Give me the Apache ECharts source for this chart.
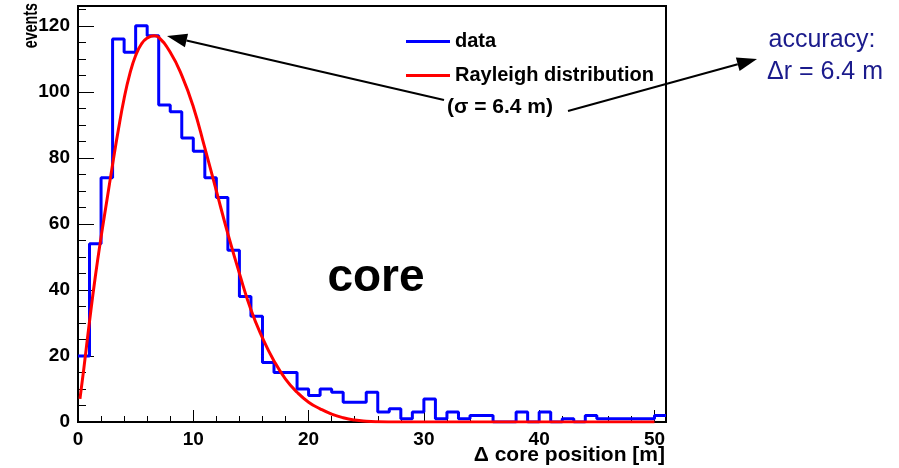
<!DOCTYPE html>
<html>
<head>
<meta charset="utf-8">
<script src="https://cdn.jsdelivr.net/npm/echarts@6/dist/echarts.min.js"></script>
<style>
  html, body { margin: 0; padding: 0; background: #ffffff; }
  #chart { width: 899px; height: 468px; }
</style>
</head>
<body>
<div id="chart"></div>
<script>
// Histogram of core position error: counts per 1 m bin, starting at 0 m
const binCounts = [20, 54, 74, 116, 112, 120, 117, 96, 94, 86,
                   82, 74, 68, 52, 38, 32, 18, 15, 15, 10,
                   8, 10, 9, 6, 6, 9, 3, 4, 1, 3,
                   7, 1, 3, 1, 2, 2, 0, 0, 3, 0,
                   3, 0, 1, 0, 2, 1, 1, 1, 1, 1,
                   2];
const binWidth = 1;

// Rayleigh fit curve, sampled points (x in m, y in events)
const curveX = [0.17, 0.5, 1, 1.5, 2, 2.5, 3, 3.5, 4, 4.5,
                5, 5.5, 6, 6.6, 7, 8, 9, 10, 11, 12,
                13, 14, 15, 16, 17, 18, 19, 20, 21, 22,
                23, 24, 25, 26, 28, 32, 40, 50];
const curveY = [7, 16, 30.5, 44, 56, 67, 78, 88.5, 98, 105.5,
                111, 114.5, 116.3, 117, 116.5, 112, 105, 95.5, 83, 70,
                57, 45, 34, 25.5, 18.5, 13, 9, 6, 4, 2.4,
                1.3, 0.6, 0.25, 0.1, 0.02, 0, 0, 0];

// Axis ticks
const xMajorTicks = [0, 10, 20, 30, 40, 50];
const xMinorTicks = [2, 4, 6, 8, 12, 14, 16, 18, 22, 24, 26, 28, 32, 34, 36, 38, 42, 44, 46, 48];
const yMajorTicks = [0, 20, 40, 60, 80, 100, 120];
const yMinorTicks = [5, 10, 15, 25, 30, 35, 45, 50, 55, 65, 70, 75, 85, 90, 95, 105, 110, 115, 125];
const xRange = [0, 51];
const yRange = [0, 126];

// Step outline: one point per bin's left edge, plus the closing right edge
const histPoints = binCounts.map((v, i) => [i * binWidth, v]);
histPoints.push([binCounts.length * binWidth, binCounts[binCounts.length - 1]]);
const curvePoints = curveX.map((x, i) => [x, curveY[i]]);

const FONT = '"Liberation Sans", Helvetica, Arial, sans-serif';
const labelStyle = { color: '#000', fontFamily: FONT, fontWeight: 'bold', fontSize: 19 };

// Straight arrow with a filled triangular head at (x2, y2)
function arrow(x1, y1, x2, y2) {
  const len = 20, half = 7;
  const dx = x2 - x1, dy = y2 - y1;
  const d = Math.sqrt(dx * dx + dy * dy);
  const ux = dx / d, uy = dy / d;
  const bx = x2 - ux * len, by = y2 - uy * len;
  return {
    type: 'group',
    children: [
      { type: 'line', shape: { x1: x1, y1: y1, x2: bx, y2: by },
        style: { stroke: '#000', lineWidth: 2 } },
      { type: 'polygon',
        shape: { points: [[x2, y2], [bx - uy * half, by + ux * half], [bx + uy * half, by - ux * half]] },
        style: { fill: '#000' } }
    ]
  };
}

function valueAxis(range, ticks, tickLen, withLabels, extra) {
  return Object.assign({
    type: 'value',
    min: range[0],
    max: range[1],
    axisLine: { show: withLabels, onZero: false, lineStyle: { color: '#000', width: 2 } },
    axisTick: { show: true, inside: true, length: tickLen, customValues: ticks,
                lineStyle: { color: '#000', width: 1 } },
    axisLabel: withLabels
      ? Object.assign({ show: true, margin: 8, customValues: ticks }, labelStyle)
      : { show: false },
    splitLine: { show: false }
  }, extra);
}

const chart = echarts.init(document.getElementById('chart'), null, { renderer: 'canvas' });
chart.setOption({
  backgroundColor: '#ffffff',
  animation: false,
  grid: {
    left: 78, top: 6, right: 233, bottom: 46,
    show: true, borderColor: '#000', borderWidth: 2, backgroundColor: 'transparent'
  },
  xAxis: [
    valueAxis(xRange, xMajorTicks, 12, true, { position: 'bottom' }),
    valueAxis(xRange, xMinorTicks, 6, false, { position: 'bottom', offset: 0 })
  ],
  yAxis: [
    valueAxis(yRange, yMajorTicks, 16, true, { position: 'left' }),
    valueAxis(yRange, yMinorTicks, 8, false, { position: 'left', offset: 0 })
  ],
  legend: {
    orient: 'vertical',
    left: 401, top: 26,
    icon: 'rect',
    itemWidth: 44, itemHeight: 3, itemGap: 13, itemTextGap: 13,
    textStyle: Object.assign({}, labelStyle, { fontSize: 20, lineHeight: 21 }),
    data: ['data', 'Rayleigh distribution']
  },
  series: [
    {
      name: 'data',
      type: 'line',
      step: 'end',
      data: histPoints,
      symbol: 'none',
      lineStyle: { color: '#0000ff', width: 3 },
      itemStyle: { color: '#0000ff' },
      clip: true,
      z: 3
    },
    {
      name: 'Rayleigh distribution',
      type: 'line',
      data: curvePoints,
      smooth: 0.5,
      symbol: 'none',
      lineStyle: { color: '#ff0000', width: 3, join: 'round' },
      itemStyle: { color: '#ff0000' },
      clip: true,
      z: 4
    }
  ],
  graphic: [
    { type: 'text', x: 31, y: 3, rotation: Math.PI / 2, scaleX: 0.68,
      style: { text: 'events', align: 'right', verticalAlign: 'middle',
               fill: '#000', font: 'bold 21px ' + FONT } },
    { type: 'text', x: 665, y: 455,
      style: { text: '\u0394 core position [m]', align: 'right', verticalAlign: 'middle',
               fill: '#000', font: 'bold 21px ' + FONT } },
    { type: 'text', x: 447, y: 107,
      style: { text: '(\u03c3 = 6.4 m)', align: 'left', verticalAlign: 'middle',
               fill: '#000', font: 'bold 21px ' + FONT } },
    { type: 'text', x: 376, y: 278,
      style: { text: 'core', align: 'center', verticalAlign: 'middle',
               fill: '#000', font: 'bold 46px ' + FONT } },
    { type: 'text', x: 822, y: 40,
      style: { text: 'accuracy:', align: 'center', verticalAlign: 'middle',
               fill: '#1b1b8c', font: '25px ' + FONT } },
    { type: 'text', x: 825, y: 72,
      style: { text: '\u0394r = 6.4 m', align: 'center', verticalAlign: 'middle',
               fill: '#1b1b8c', font: '25px ' + FONT } },
    arrow(444, 100, 167, 36),
    arrow(568, 111, 757, 59)
  ]
});
</script>
</body>
</html>
